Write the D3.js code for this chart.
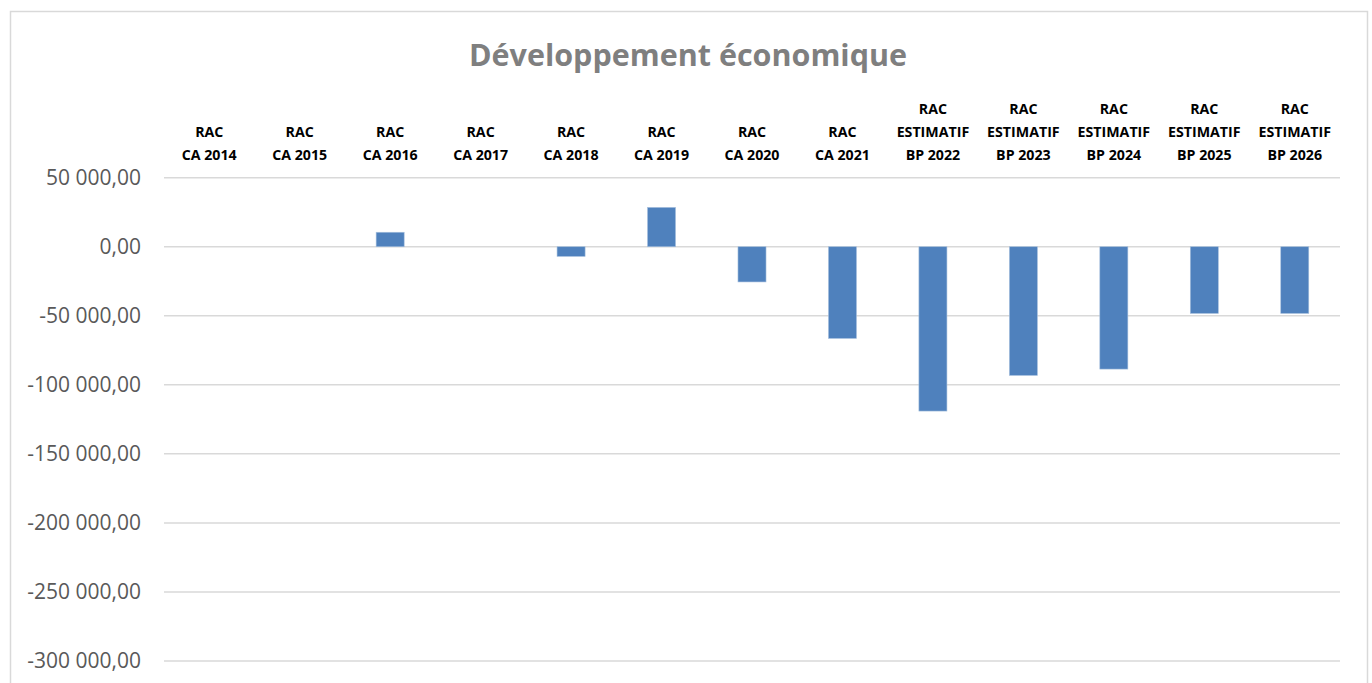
<!DOCTYPE html>
<html><head><meta charset="utf-8">
<script src="https://cdn.jsdelivr.net/npm/d3@7"></script>
<style>body{margin:0;background:#fff;} svg{display:block;}</style>
</head><body><svg id="c" width="1372" height="683"></svg>
<script>
const title = "Développement économique";
const categories = [
  ["RAC","CA 2014"],["RAC","CA 2015"],["RAC","CA 2016"],["RAC","CA 2017"],
  ["RAC","CA 2018"],["RAC","CA 2019"],["RAC","CA 2020"],["RAC","CA 2021"],
  ["RAC","ESTIMATIF","BP 2022"],["RAC","ESTIMATIF","BP 2023"],["RAC","ESTIMATIF","BP 2024"],
  ["RAC","ESTIMATIF","BP 2025"],["RAC","ESTIMATIF","BP 2026"]
];
const values = [0, 0, 10500, 0, -7000, 28500, -25500, -66400, -119000, -93200, -88600, -48300, -48300];
const yTicks = [50000, 0, -50000, -100000, -150000, -200000, -250000, -300000];

const svg = d3.select("#c");
const W = 1372, H = 683;
svg.append("rect").attr("x",10.5).attr("y",11.5).attr("width",1357).attr("height",H)
  .attr("fill","#fff").attr("stroke","#d9d9d9").attr("stroke-width",1.5);

const x = d3.scaleBand().domain(d3.range(categories.length)).range([164,1340]).paddingInner(0.69).paddingOuter(0.345);
const y = d3.scaleLinear().domain([-300000,50000]).range([661,177.7]);

const loc = d3.formatLocale({decimal:",", thousands:"\u00a0", grouping:[3], currency:["",""], minus:"-"});
const fmt = loc.format(",.2f");

svg.append("text").attr("x",688).attr("y",66).attr("text-anchor","middle")
  .attr("font-family","'Open Sans', sans-serif").attr("font-weight","bold").attr("font-size",30.5)
  .attr("fill","#7f7f7f").text(title);

const yAxis = d3.axisLeft(y).tickValues(yTicks).tickSize(0).tickPadding(23).tickFormat(fmt);
const gy = svg.append("g").attr("transform","translate(164,0)").call(yAxis);
gy.select(".domain").remove();
gy.selectAll("text").attr("font-family","'Open Sans', sans-serif").attr("font-size",21).attr("fill","#595959");

svg.append("g").selectAll("line").data(yTicks).join("line")
  .attr("x1",164).attr("x2",1340).attr("y1",d=>y(d)).attr("y2",d=>y(d))
  .attr("stroke","#d9d9d9").attr("stroke-width",1.5);

svg.append("g").selectAll("rect").data(values).join("rect")
  .attr("x",(d,i)=>x(i)).attr("width",x.bandwidth())
  .attr("y",d=>y(Math.max(0,d))).attr("height",d=>Math.abs(y(d)-y(0)))
  .attr("fill","#4f81bd").attr("stroke","#a7c0de").attr("stroke-width",0.6);

const lab = svg.append("g");
categories.forEach((lines,i)=>{
  const cx = x(i)+x.bandwidth()/2;
  const n = lines.length;
  lines.forEach((t,j)=>{
    lab.append("text").attr("x",cx).attr("y",160-(n-1-j)*23.2).attr("text-anchor","middle")
      .attr("font-family","'Open Sans', sans-serif").attr("font-weight","bold").attr("font-size",14.2)
      .attr("fill","#000").text(t);
  });
});
</script></body></html>
